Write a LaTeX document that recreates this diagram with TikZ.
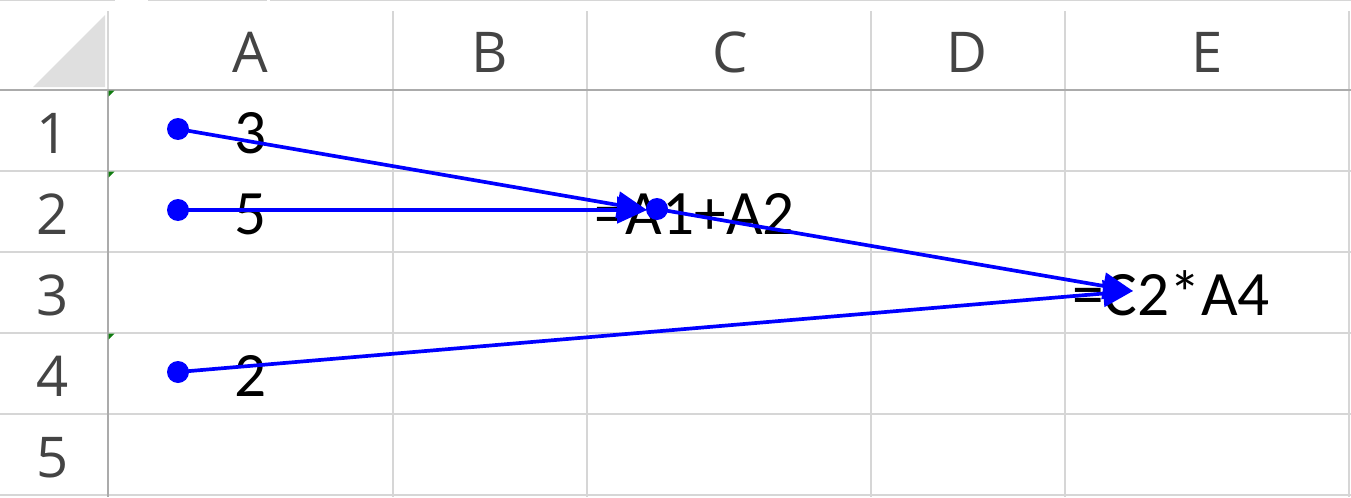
\documentclass[tikz,border=0pt]{standalone}
\usepackage{fontspec}
\setmainfont{Carlito}
\newfontfamily\hdrfont{Open Sans}
\usetikzlibrary{arrows.meta}

\definecolor{gridgray}{HTML}{D6D6D6}
\definecolor{edgegray}{HTML}{ABABAB}
\definecolor{hdrgray}{HTML}{444444}
\definecolor{cornergray}{HTML}{DFDFDF}
\definecolor{xlblue}{HTML}{0000FF}
\definecolor{flaggreen}{HTML}{107C10}

\tikzset{
  gridline/.style={draw=gridgray, line width=0.6pt},
  edgeline/.style={draw=edgegray, line width=0.7pt},
  hdr/.style={anchor=base, inner sep=0, text=hdrgray, font=\hdrfont\fontsize{32}{32}\selectfont},
  cell/.style={anchor=base, inner sep=0, font=\fontsize{36}{36}\selectfont},
  formula/.style={cell, anchor=base west},
  dot/.style={circle, fill=xlblue, inner sep=0, minimum size=0.44cm},
  arr/.style={xlblue, line width=2.1pt, -{Triangle[length=17pt,width=15pt]}},
}

\begin{document}
\begin{tikzpicture}[x=0.02cm,y=-0.02cm]
\useasboundingbox (0,0) rectangle (1351,497);

% sheet frame
\draw[gridline] (0,0.5)--(115,0.5) (148,0.5)--(267,0.5) (270,0.5)--(1351,0.5);
\fill[cornergray] (33,87)--(105,15)--(105,87)--cycle;

% grid
\foreach \x in {393,587,871,1065,1349} \draw[gridline] (\x,11)--(\x,497);
\foreach \y in {171,252,333,414,495} \draw[gridline] (0,\y)--(1351,\y);
\draw[gridline] (108,11)--(108,90);
\draw[edgeline] (108,90)--(108,497);
\draw[edgeline] (0,90)--(1351,90);
\foreach \y in {90,171,333} \fill[flaggreen] (108.5,\y+0.5)--++(6,0)--++(-6,6)--cycle;

% column and row headers
\path
(250,72)  node[hdr] (hA) {A}
(490,72)  node[hdr] (hB) {B}
(730,72)  node[hdr] (hC) {C}
(967,72)  node[hdr] (hD) {D}
(1207,72) node[hdr] (hE) {E}
(53,153)  node[hdr] (r1) {1}
(53,234)  node[hdr] (r2) {2}
(53,315)  node[hdr] (r3) {3}
(53,396)  node[hdr] (r4) {4}
(53,477)  node[hdr] (r5) {5}
;

% cells
\path
(251,153)  node[cell] (a1) {3}
(251,234)  node[cell] (a2) {5}
(251,396)  node[cell] (a4) {2}
(594,234)  node[formula] (c2) {=A1+A2}
(1072,315) node[formula] (e3) {=C2*A4}
;

% precedent arrows
\path
(178,129) node[dot] (d1) {}
(178,210) node[dot] (d2) {}
(178,372) node[dot] (d4) {}
(657,209) node[dot] (dc2) {}
;
\coordinate (tc2) at (647,210);
\coordinate (te3) at (1133,291);

\draw[arr] (d1.center)--(tc2);
\draw[arr] (d2.center)--(tc2);
\draw[arr] (dc2.center)--(te3);
\draw[arr] (d4.center)--(te3);

\end{tikzpicture}
\end{document}
